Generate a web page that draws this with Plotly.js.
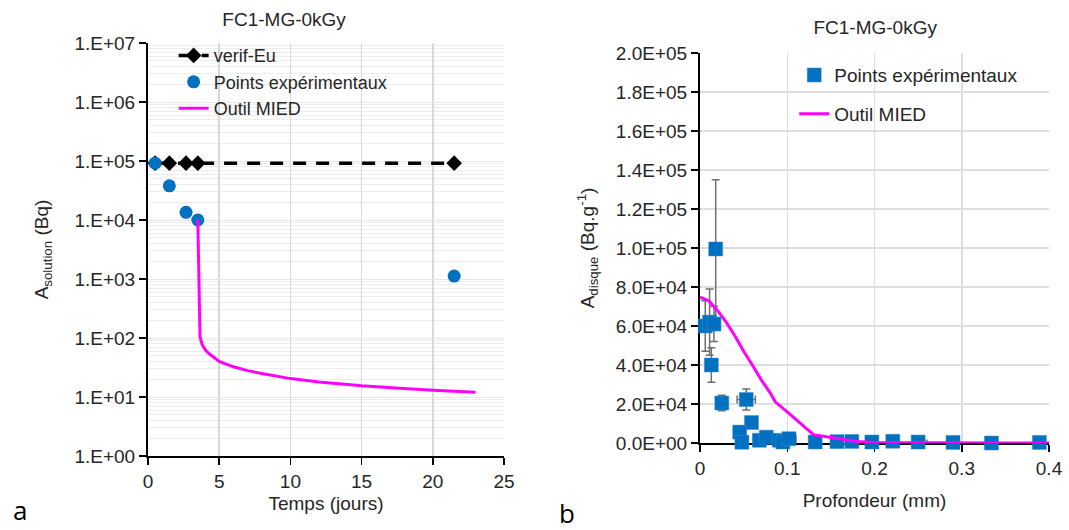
<!DOCTYPE html>
<html>
<head>
<meta charset="utf-8">
<script src="https://cdn.plot.ly/plotly-3.0.1.min.js"></script>
<style>
  html, body { margin: 0; padding: 0; background: #fff; }
  #wrap { position: relative; width: 1069px; height: 530px; }
  #chartA { position: absolute; left: 0; top: 0; width: 535px; height: 530px; }
  #chartB { position: absolute; left: 535px; top: 0; width: 534px; height: 530px; }
</style>
</head>
<body>
<div id="wrap"><div id="chartA"></div><div id="chartB"></div></div>
<script>
// ---------- Chart a : activity in solution vs time ----------
const chartTitle = 'FC1-MG-0kGy';

const verifX = [0.5, 1.5, 2.67, 3.5, 21.5];
const verifY = [92000, 92000, 92000, 92000, 92000];

const expAX = [0.5, 1.5, 2.67, 3.5, 21.5];
const expAY = [92000, 38000, 13500, 10000, 1120];

const miedAX = [3.5, 3.65, 3.8, 4.0, 4.3, 4.7, 5, 6, 7, 8, 10, 12, 15, 18, 20, 23];
const miedAY = [10000, 105, 78, 64, 54, 45, 40, 32.5, 28, 25, 20.5, 18, 15.5, 14, 13, 12];

const logTickVals = [1, 10, 100, 1000, 10000, 100000, 1000000, 10000000];
const logTickText = ['1.E+00', '1.E+01', '1.E+02', '1.E+03', '1.E+04', '1.E+05', '1.E+06', '1.E+07'];
const timeTicks = [0, 5, 10, 15, 20, 25];

// ---------- Chart b : activity of disc vs depth ----------
const expBX = [0.006, 0.011, 0.016, 0.018, 0.013, 0.025, 0.053, 0.059, 0.0455, 0.048, 0.068, 0.076, 0.091, 0.095, 0.102,
               0.132, 0.157, 0.174, 0.197, 0.2, 0.221, 0.25, 0.26, 0.29, 0.334, 0.389];
const expBY = [60000, 62000, 61000, 99500, 40000, 20500, 22300, 10500, 5600, 400, 1400, 3000, 1400, 500, 2200,
               500, 700, 800, 500, -200, 900, 500, -300, 300, 0, 300];
const expBErrY = [13000, 17000, 9000, 35500, 8800, 4000, 5400, null, null, null, null, null, null, null, null,
                  null, null, null, null, null, null, null, null, null, null, null];
const expBErrX = [null, null, null, null, null, null, 0.0105, 0.006, null, null, null, null, null, null, 0.008,
                  null, null, null, null, null, null, null, null, null, null, null];

const miedBX = [0, 0.01, 0.02, 0.03, 0.04, 0.05, 0.06, 0.07, 0.08, 0.0865, 0.1, 0.11, 0.12, 0.13, 0.15, 0.18, 0.2, 0.25, 0.3, 0.35, 0.4];
const miedBY = [74800, 73000, 68000, 62000, 55000, 47000, 40000, 32500, 26000, 21000, 16000, 12000, 8000, 4300, 2800, 800, 300, 100, 50, 20, 0];

const linTickVals = [0, 20000, 40000, 60000, 80000, 100000, 120000, 140000, 160000, 180000, 200000];
const linTickText = ['0.0E+00', '2.0E+04', '4.0E+04', '6.0E+04', '8.0E+04', '1.0E+05', '1.2E+05', '1.4E+05', '1.6E+05', '1.8E+05', '2.0E+05'];
const depthTicks = [0, 0.1, 0.2, 0.3, 0.4];

const FONT = 'Liberation Sans, Arial, sans-serif';
const TXT = '#262626';
const BLUE = '#0070C0';
const MAGENTA = '#FF00FF';
const FS = 19;

// ---------- draw a ----------
const tracesA = [
  { x: verifX, y: verifY, type: 'scatter', mode: 'lines+markers', name: 'verif-Eu',
    line: { color: '#000', width: 3.5, dash: '13px,10px' },
    marker: { symbol: 'diamond', size: 12, color: '#000' } },
  { x: expAX, y: expAY, type: 'scatter', mode: 'markers', name: 'Points expérimentaux',
    marker: { symbol: 'circle', size: 13, color: BLUE }, cliponaxis: false },
  { x: miedAX, y: miedAY, type: 'scatter', mode: 'lines', name: 'Outil MIED',
    line: { color: MAGENTA, width: 3 } }
];

const layoutA = {
  width: 535, height: 530,
  margin: { l: 148, r: 31, t: 43, b: 74 },
  paper_bgcolor: '#fff', plot_bgcolor: '#fff',
  font: { family: FONT, size: FS, color: TXT },
  title: { text: chartTitle, font: { family: FONT, size: 19, color: TXT },
           x: 0.531, xref: 'container', xanchor: 'center', y: 0.964, yref: 'container', yanchor: 'middle' },
  showlegend: true,
  legend: { x: 0.072, y: 1.014, xanchor: 'left', yanchor: 'top', bgcolor: 'rgba(0,0,0,0)',
            font: { family: FONT, size: 18, color: TXT }, tracegroupgap: 0 },
  xaxis: {
    range: [0, 25], tickvals: timeTicks, ticktext: timeTicks.map(String),
    showline: true, linecolor: '#000', linewidth: 2, ticks: 'outside', ticklen: 7, tickcolor: '#000', tickwidth: 1.5,
    showgrid: true, gridcolor: '#d9d9d9', gridwidth: 1.5, zeroline: false,
    tickfont: { family: FONT, size: FS, color: TXT },
    title: { text: 'Temps (jours)', font: { family: FONT, size: FS, color: TXT }, standoff: 6 },
    automargin: false
  },
  yaxis: {
    type: 'log', range: [0, 7], tickvals: logTickVals, ticktext: logTickText,
    showline: true, linecolor: '#000', linewidth: 2, ticks: 'outside', ticklen: 7, tickcolor: '#000', tickwidth: 1.5,
    showgrid: true, gridcolor: '#e6e6e6', gridwidth: 1, zeroline: false,
    minor: { dtick: 'D1', showgrid: true, gridcolor: '#ededed', gridwidth: 1, ticks: '' },
    tickfont: { family: FONT, size: FS, color: TXT },
    title: { text: 'A<sub>solution</sub> (Bq)', font: { family: FONT, size: FS, color: TXT }, standoff: 21 },
    automargin: false
  },
  annotations: [
    { text: 'a', xref: 'paper', yref: 'paper', x: -0.385, y: -0.13, xanchor: 'left', yanchor: 'middle',
      showarrow: false, font: { family: 'Open Sans, sans-serif', size: 26, color: '#000' } }
  ]
};

// ---------- draw b ----------
const tracesB = [
  { x: expBX, y: expBY, type: 'scatter', mode: 'markers', name: 'Points expérimentaux', legendgroup: 'g1',
    marker: { symbol: 'square', size: 14, color: BLUE, line: { color: '#3a8fd0', width: 0.5 } },
    error_y: { type: 'data', array: expBErrY, visible: true, color: '#6f6f6f', thickness: 1.5, width: 4 },
    error_x: { type: 'data', array: expBErrX, visible: true, color: '#6f6f6f', thickness: 1.5, width: 4 },
    cliponaxis: false },
  { x: miedBX, y: miedBY, type: 'scatter', mode: 'lines', name: 'Outil MIED', legendgroup: 'g2',
    line: { color: MAGENTA, width: 3 }, cliponaxis: false }
];

const layoutB = {
  width: 534, height: 530,
  margin: { l: 165, r: 20, t: 53, b: 87 },
  paper_bgcolor: 'rgba(0,0,0,0)', plot_bgcolor: '#fff',
  font: { family: FONT, size: FS, color: TXT },
  title: { text: chartTitle, font: { family: FONT, size: 19, color: TXT },
           x: 0.637, xref: 'container', xanchor: 'center', y: 0.949, yref: 'container', yanchor: 'middle' },
  showlegend: true,
  legend: { x: 0.27, y: 0.992, xanchor: 'left', yanchor: 'top', bgcolor: 'rgba(0,0,0,0)',
            traceorder: 'grouped', tracegroupgap: 11,
            font: { family: FONT, size: FS, color: TXT } },
  xaxis: {
    range: [0, 0.4], tickvals: depthTicks, ticktext: depthTicks.map(String),
    showline: true, linecolor: '#000', linewidth: 2, ticks: 'outside', ticklen: 7, tickcolor: '#000', tickwidth: 1.5,
    showgrid: true, gridcolor: '#dedede', gridwidth: 1.5, zeroline: false, layer: 'below traces',
    tickfont: { family: FONT, size: FS, color: TXT },
    title: { text: 'Profondeur (mm)', font: { family: FONT, size: FS, color: TXT }, standoff: 16 },
    automargin: false
  },
  yaxis: {
    range: [0, 200000], tickvals: linTickVals, ticktext: linTickText,
    showline: true, linecolor: '#000', linewidth: 2, ticks: 'outside', ticklen: 7, tickcolor: '#000', tickwidth: 1.5,
    showgrid: true, gridcolor: '#dedede', gridwidth: 1.5, zeroline: false, layer: 'below traces',
    tickfont: { family: FONT, size: FS, color: TXT },
    title: { text: 'A<sub>disque</sub> (Bq.g<sup>-1</sup>)', font: { family: FONT, size: FS, color: TXT }, standoff: 16 },
    automargin: false
  },
  annotations: [
    { text: 'b', xref: 'paper', yref: 'paper', x: -0.41, y: -0.18, xanchor: 'left', yanchor: 'middle',
      showarrow: false, font: { family: 'Open Sans, sans-serif', size: 26, color: '#000' } }
  ]
};

const cfg = { staticPlot: true, displayModeBar: false };
Plotly.newPlot('chartA', tracesA, layoutA, cfg);
Plotly.newPlot('chartB', tracesB, layoutB, cfg);
</script>
</body>
</html>
